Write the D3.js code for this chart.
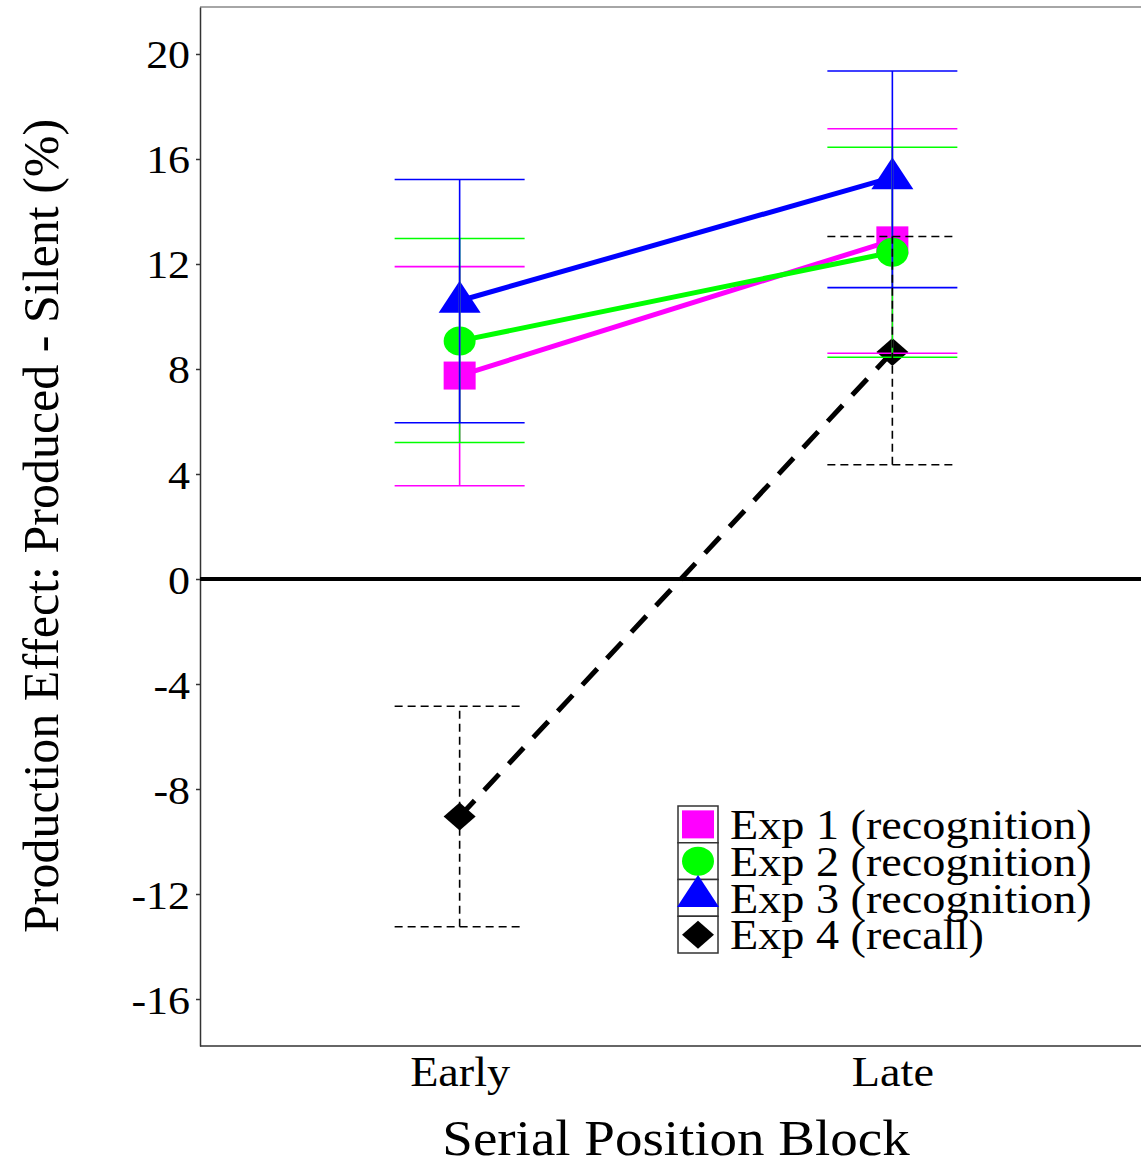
<!DOCTYPE html>
<html><head><meta charset="utf-8">
<script src="https://cdn.jsdelivr.net/npm/d3@7"></script>
<style>body{margin:0;background:#fff}svg{display:block}</style>
</head><body>
<script>
const categories = ["Early", "Late"];
const seriesNames = ["Exp 1 (recognition)", "Exp 2 (recognition)", "Exp 3 (recognition)", "Exp 4 (recall)"];
const means = [[7.75, 12.9], [9.07, 12.45], [10.6, 15.3], [-9.05, 8.65]];
const lower = [[3.55, 8.6], [5.2, 8.45], [5.95, 11.1], [-13.25, 4.35]];
const upper = [[11.9, 17.15], [12.97, 16.45], [15.22, 19.35], [-4.85, 13.05]];
const yTicks = [-16, -12, -8, -4, 0, 4, 8, 12, 16, 20];
const colors = ["#ff00ff", "#00ff00", "#0000ff", "#000000"];
const shapes = ["square", "circle", "triangle", "diamond"];

const W = 1141, H = 1162;
const svg = d3.select("body").append("svg").attr("width", W).attr("height", H);
const font = "'Liberation Serif','Times New Roman',serif";
const SX = 1.1; // horizontal stretch of horizontal text
const L = 200, R = 1152, T = 7, B = 1046;
const x = d3.scalePoint().domain(categories).range([L, R]).padding(0.6);
const y = d3.scaleLinear().domain([-17.79, 21.79]).range([B, T]);

// frame
svg.append("line").attr("x1", L).attr("x2", W).attr("y1", T).attr("y2", T).attr("stroke", "#888").attr("stroke-width", 1.5);
svg.append("line").attr("x1", L).attr("x2", W).attr("y1", B).attr("y2", B).attr("stroke", "#333").attr("stroke-width", 1.5);

const yAxis = svg.append("g").attr("transform", `translate(${L},0)`)
  .call(d3.axisLeft(y).tickValues(yTicks).tickSizeInner(4).tickSizeOuter(0).tickPadding(5).tickFormat(d => d));
yAxis.select(".domain").attr("stroke", "#333").attr("stroke-width", 1.5);
yAxis.selectAll(".tick line").attr("stroke", "#333").attr("stroke-width", 1.5);
yAxis.selectAll("text").attr("font-family", font).attr("font-size", 40).attr("fill", "#000")
  .attr("dy", "0.35em").attr("transform", `scale(${SX},1)`);

const xAxis = svg.append("g").attr("transform", `translate(0,${B})`)
  .call(d3.axisBottom(x).tickSize(0).tickPadding(0));
xAxis.select(".domain").remove();
xAxis.selectAll("text").attr("font-family", font).attr("font-size", 42).attr("fill", "#000")
  .attr("dy", null).attr("y", 40).attr("transform", `scale(${SX},1)`);

// zero line
svg.append("line").attr("x1", L).attr("x2", W).attr("y1", y(0)).attr("y2", y(0)).attr("stroke", "#000").attr("stroke-width", 4);

// titles
svg.append("text").attr("transform", `translate(676,1155) scale(${SX},1)`).attr("text-anchor", "middle")
  .attr("font-family", font).attr("font-size", 50).text("Serial Position Block");
svg.append("text").attr("transform", `translate(58,526) rotate(-90)`).attr("text-anchor", "middle")
  .attr("font-family", font).attr("font-size", 50).text("Production Effect: Produced - Silent (%)");

function drawMarker(g, shape, cx, cy, color) {
  if (shape === "square") {
    g.append("rect").attr("x", cx - 16).attr("y", cy - 14).attr("width", 32).attr("height", 28).attr("fill", color);
  } else if (shape === "circle") {
    g.append("ellipse").attr("cx", cx).attr("cy", cy).attr("rx", 16).attr("ry", 14.5).attr("fill", color);
  } else if (shape === "triangle") {
    g.append("path").attr("d", `M${cx},${cy - 20}L${cx + 21},${cy + 12}L${cx - 21},${cy + 12}Z`).attr("fill", color);
  } else {
    g.append("path").attr("d", `M${cx},${cy - 14}L${cx + 16},${cy}L${cx},${cy + 14}L${cx - 16},${cy}Z`).attr("fill", color);
  }
}

const gl = svg.append("g");
const line = d3.line().x((d, i) => x(categories[i])).y(d => y(d));
means.forEach((m, s) => {
  gl.append("path").datum(m).attr("d", line).attr("fill", "none")
    .attr("stroke", colors[s]).attr("stroke-width", 5)
    .attr("stroke-dasharray", s === 3 ? "22,14" : null);
});
means.forEach((m, s) => {
  m.forEach((v, i) => drawMarker(gl, shapes[s], x(categories[i]), y(v), colors[s]));
});
// error bars
const capHalf = 65;
means.forEach((m, s) => {
  m.forEach((v, i) => {
    const cx = x(categories[i]);
    const dash = s === 3 ? "8,5" : null;
    const attrs = sel => sel.attr("stroke", colors[s]).attr("stroke-width", 1.6).attr("stroke-dasharray", dash);
    gl.append("line").attr("x1", cx).attr("x2", cx).attr("y1", y(lower[s][i])).attr("y2", y(upper[s][i])).call(attrs);
    gl.append("line").attr("x1", cx - capHalf).attr("x2", cx + capHalf).attr("y1", y(lower[s][i])).attr("y2", y(lower[s][i])).call(attrs);
    gl.append("line").attr("x1", cx - capHalf).attr("x2", cx + capHalf).attr("y1", y(upper[s][i])).attr("y2", y(upper[s][i])).call(attrs);
  });
});

// legend
const lg = svg.append("g").attr("transform", "translate(678,806)");
const rowH = 36.75;
seriesNames.forEach((n, i) => {
  lg.append("rect").attr("x", 0).attr("y", i * rowH).attr("width", 40).attr("height", rowH)
    .attr("fill", "#fff").attr("stroke", "#333").attr("stroke-width", 1.5);
});
seriesNames.forEach((n, i) => {
  drawMarker(lg, shapes[i], 20, i * rowH + rowH / 2 + (shapes[i] === "triangle" ? -3 : 0), colors[i]);
  lg.append("text").attr("transform", `translate(52,${i * rowH + rowH / 2}) scale(${SX},1)`).attr("dy", "0.35em")
    .attr("font-family", font).attr("font-size", 42).text(n);
});
</script>
</body></html>
